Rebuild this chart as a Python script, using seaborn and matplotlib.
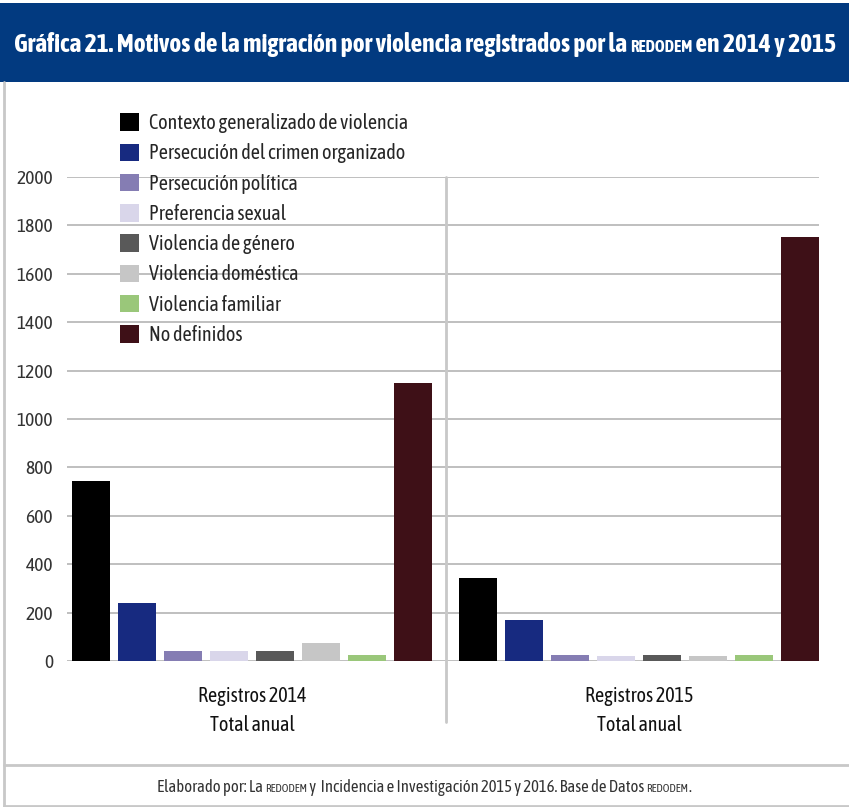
import matplotlib
matplotlib.use('Agg')
import matplotlib.pyplot as plt
import seaborn as sns
import pandas as pd
from matplotlib.patches import Rectangle
from matplotlib.lines import Line2D

# Datos
registros = ['Registros 2014\nTotal anual', 'Registros 2015\nTotal anual']
motivos = ['Contexto generalizado de violencia', 'Persecución del crimen organizado',
           'Persecución política', 'Preferencia sexual', 'Violencia de género',
           'Violencia doméstica', 'Violencia familiar', 'No definidos']
valores_2014 = [745, 240, 43, 43, 43, 74, 25, 1149]
valores_2015 = [343, 169, 25, 20, 25, 20, 25, 1751]
colores = ['#000000', '#172a80', '#857db3', '#d9d6ea', '#595959', '#c6c6c6', '#9ac77a', '#3e1017']
yticks = list(range(0, 2001, 200))

sns.set_theme(style='white')
plt.rcParams['font.family'] = ['Asap Condensed', 'DejaVu Sans']

df = pd.DataFrame({
    'registro': [registros[0]] * len(motivos) + [registros[1]] * len(motivos),
    'motivo': motivos * 2,
    'valor': valores_2014 + valores_2015,
})

W, H = 849, 807
fig = plt.figure(figsize=(W / 100, H / 100), dpi=100)

# banda del titulo y marco
fig.patches.append(Rectangle((0, 1 - 82 / H), 1, 79 / H, transform=fig.transFigure,
                             facecolor='#023a80', edgecolor='none', zorder=0))
fig.lines.append(Line2D([4 / W, 4 / W], [1 / H, 1 - 82 / H], transform=fig.transFigure,
                        color='#c8c8c8', lw=2))
fig.lines.append(Line2D([4 / W, 1], [1 - 765 / H, 1 - 765 / H], transform=fig.transFigure,
                        color='#c8c8c8', lw=2))
fig.lines.append(Line2D([4 / W, 1], [1 / H, 1 / H], transform=fig.transFigure,
                        color='#c8c8c8', lw=2))

ax = fig.add_axes([67 / W, 1 - 661 / H, 752 / W, 484 / H])
sns.barplot(data=df, x='registro', y='valor', hue='motivo', hue_order=motivos,
            palette=colores, saturation=1, width=0.95, gap=0.17,
            edgecolor='none', linewidth=0, ax=ax)

ax.set_xlim(-0.478, 1.465)
ax.set_ylim(0, 2000)
ax.set_yticks(yticks)
ax.yaxis.grid(True, color='#bfbfbf', lw=1.4)
ax.set_axisbelow(True)
for s in ax.spines.values():
    s.set_visible(False)
ax.tick_params(axis='both', length=0)
ax.tick_params(axis='y', labelsize=14, labelcolor='#333333', pad=10)
ax.tick_params(axis='x', labelsize=14.5, labelcolor='#111111', pad=18)
for lbl in ax.get_xticklabels():
    lbl.set_linespacing(1.55)
ax.set_xlabel('')
ax.set_ylabel('')

# separador vertical entre grupos
ax.axvline(0.5, ymin=-61 / 484, ymax=1, color='#c8c8c8', lw=2, clip_on=False)

ax.legend(loc='upper left', bbox_to_anchor=(120 / W, 1 - 113 / H), bbox_transform=fig.transFigure,
          frameon=False, fontsize=14.5, handlelength=0.95, handleheight=0.95,
          handletextpad=0.5, labelspacing=0.51, borderpad=0, borderaxespad=0)


def texto_mixto(piezas, xc, yb, color, weight):
    r = fig.canvas.get_renderer()
    objs = []
    for txt, size in piezas:
        objs.append(fig.text(0, 1 - yb / H, txt, fontsize=size, color=color,
                             weight=weight, ha='left', va='baseline'))
    anchos = [t.get_window_extent(r).width for t in objs]
    x = xc - sum(anchos) / 2
    for t, w in zip(objs, anchos):
        t.set_x(x / W)
        x += w


texto_mixto([('Gráfica 21. Motivos de la migración por violencia registrados por la ', 18.4),
             ('REDODEM', 12), (' en 2014 y 2015', 18.4)], 425, 52, 'white', 'bold')
texto_mixto([('Elaborado por: La ', 12), ('REDODEM', 8.2),
             (' y  Incidencia e Investigación 2015 y 2016. Base de Datos ', 12),
             ('REDODEM', 8.2), ('.', 12)], 424, 792, '#333333', 'normal')

fig.savefig('out.png', dpi=100)
